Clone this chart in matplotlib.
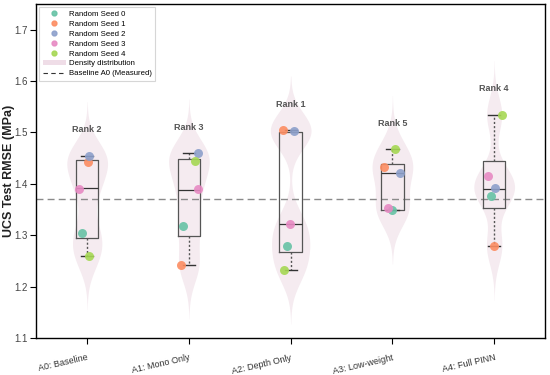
import numpy as np
import matplotlib
matplotlib.use("Agg")
import matplotlib.pyplot as plt
from matplotlib.lines import Line2D
from matplotlib.patches import Patch

plt.rcParams["font.family"] = ["Liberation Sans", "DejaVu Sans"]

# --- data ---
modelos = ["A0: Baseline", "A1: Mono Only", "A2: Depth Only", "A3: Low-weight", "A4: Full PINN"]
sementes = ["Random Seed 0", "Random Seed 1", "Random Seed 2", "Random Seed 3", "Random Seed 4"]
cores = ["#66c2a5", "#fc8d62", "#8da0cb", "#e78ac3", "#a6d854"]

# RMSE per model, one entry per seed (0..4)
rmse_a0 = [1.305, 1.443, 1.455, 1.390, 1.260]
rmse_a1 = [1.318, 1.242, 1.460, 1.390, 1.445]
rmse_a2 = [1.279, 1.505, 1.502, 1.322, 1.232]
rmse_a3 = [1.349, 1.432, 1.422, 1.352, 1.467]
rmse_a4 = [1.376, 1.278, 1.392, 1.415, 1.535]
rmse = [rmse_a0, rmse_a1, rmse_a2, rmse_a3, rmse_a4]

# box statistics as drawn
q1 = [1.294, 1.299, 1.267, 1.350, 1.353]
mediana = [1.392, 1.388, 1.322, 1.421, 1.390]
q3 = [1.446, 1.449, 1.500, 1.439, 1.444]
ranks = ["Rank 2", "Rank 3", "Rank 1", "Rank 5", "Rank 4"]

# horizontal jitter of the points (layout only)
jitter = [
    [-0.05, 0.01, 0.02, -0.08, 0.02],
    [-0.06, -0.08, 0.085, 0.09, 0.06],
    [-0.035, -0.075, 0.03, -0.01, -0.07],
    [0.0, -0.085, 0.07, -0.045, 0.025],
    [-0.035, 0.0, 0.01, -0.06, 0.08],
]

baseline = np.mean(rmse_a0)
cor_violino = "#f5ebf0"

fig, ax = plt.subplots(figsize=(5.5, 3.75), dpi=100)
fig.subplots_adjust(left=0.066, right=0.991, bottom=0.099, top=0.989)

# violins (gaussian kde, fixed bandwidth)
bw = 0.035
for i, valores in enumerate(rmse):
    v = np.array(valores)
    ys = np.linspace(v.min() - 3 * bw, v.max() + 3 * bw, 300)
    dens = np.exp(-0.5 * ((ys[:, None] - v[None, :]) / bw) ** 2).sum(axis=1)
    dens = dens / dens.max() * 0.2
    ax.fill_betweenx(ys, i - dens, i + dens, color=cor_violino, lw=0, zorder=1)

# boxes
stats = []
for i, valores in enumerate(rmse):
    stats.append(dict(med=mediana[i], q1=q1[i], q3=q3[i],
                      whislo=min(valores), whishi=max(valores), fliers=[]))
ax.bxp(stats, positions=range(len(modelos)), widths=0.22, capwidths=0.12,
       showfliers=False, patch_artist=False,
       boxprops=dict(color="#555555", lw=0.9),
       medianprops=dict(color="#333333", lw=0.9),
       whiskerprops=dict(color="#555555", lw=1.0, ls=(0, (1.5, 1.5))),
       capprops=dict(color="#333333", lw=1.0), zorder=2)

# points per seed
for s in range(len(sementes)):
    xs = [i + jitter[i][s] for i in range(len(modelos))]
    ys = [rmse[i][s] for i in range(len(modelos))]
    ax.scatter(xs, ys, s=42, color=cores[s], alpha=0.9, lw=0, zorder=3)

ax.axhline(baseline, color="#8a8a8a", lw=1.0, ls=(0, (5, 3)), zorder=1.5)

for i, r in enumerate(ranks):
    ax.text(i, max(rmse[i]) + 0.05, r, ha="center", va="center", fontsize=6.5,
            fontweight="bold", color="#555555")

ax.set_xlim(-0.5, 4.5)
ax.set_ylim(1.1, 1.75)
ax.set_yticks([1.1, 1.2, 1.3, 1.4, 1.5, 1.6, 1.7])
ax.set_xticks(range(len(modelos)))
ax.set_xticklabels(modelos, rotation=13, ha="right", rotation_mode="anchor", fontsize=6.5, color="#333333")
ax.tick_params(axis="y", labelsize=7, labelcolor="#444444", length=4, pad=2)
ax.tick_params(axis="x", length=4, pad=7)
ax.set_ylabel("UCS Test RMSE (MPa)", fontsize=9, fontweight="bold", color="#222222")
ax.yaxis.set_label_coords(-0.042, 0.5)
for sp in ax.spines.values():
    sp.set_linewidth(1.0)

handles = [Line2D([], [], marker="o", ls="", color=c, markersize=3.5, alpha=0.9) for c in cores]
handles.append(Patch(facecolor="#efdde7", edgecolor="none"))
handles.append(Line2D([], [], color="#333333", lw=0.8, ls=(0, (4, 3))))
labels = sementes + ["Density distribution", "Baseline A0 (Measured)"]
leg = ax.legend(handles, labels, loc="upper left", fontsize=5.6, frameon=True,
                borderpad=0.4, labelspacing=0.32, handlelength=3.0, handletextpad=0.4,
                borderaxespad=0.4, fancybox=False, edgecolor="#cccccc")
leg.get_frame().set_linewidth(0.8)

fig.savefig("out.png", dpi=100)
